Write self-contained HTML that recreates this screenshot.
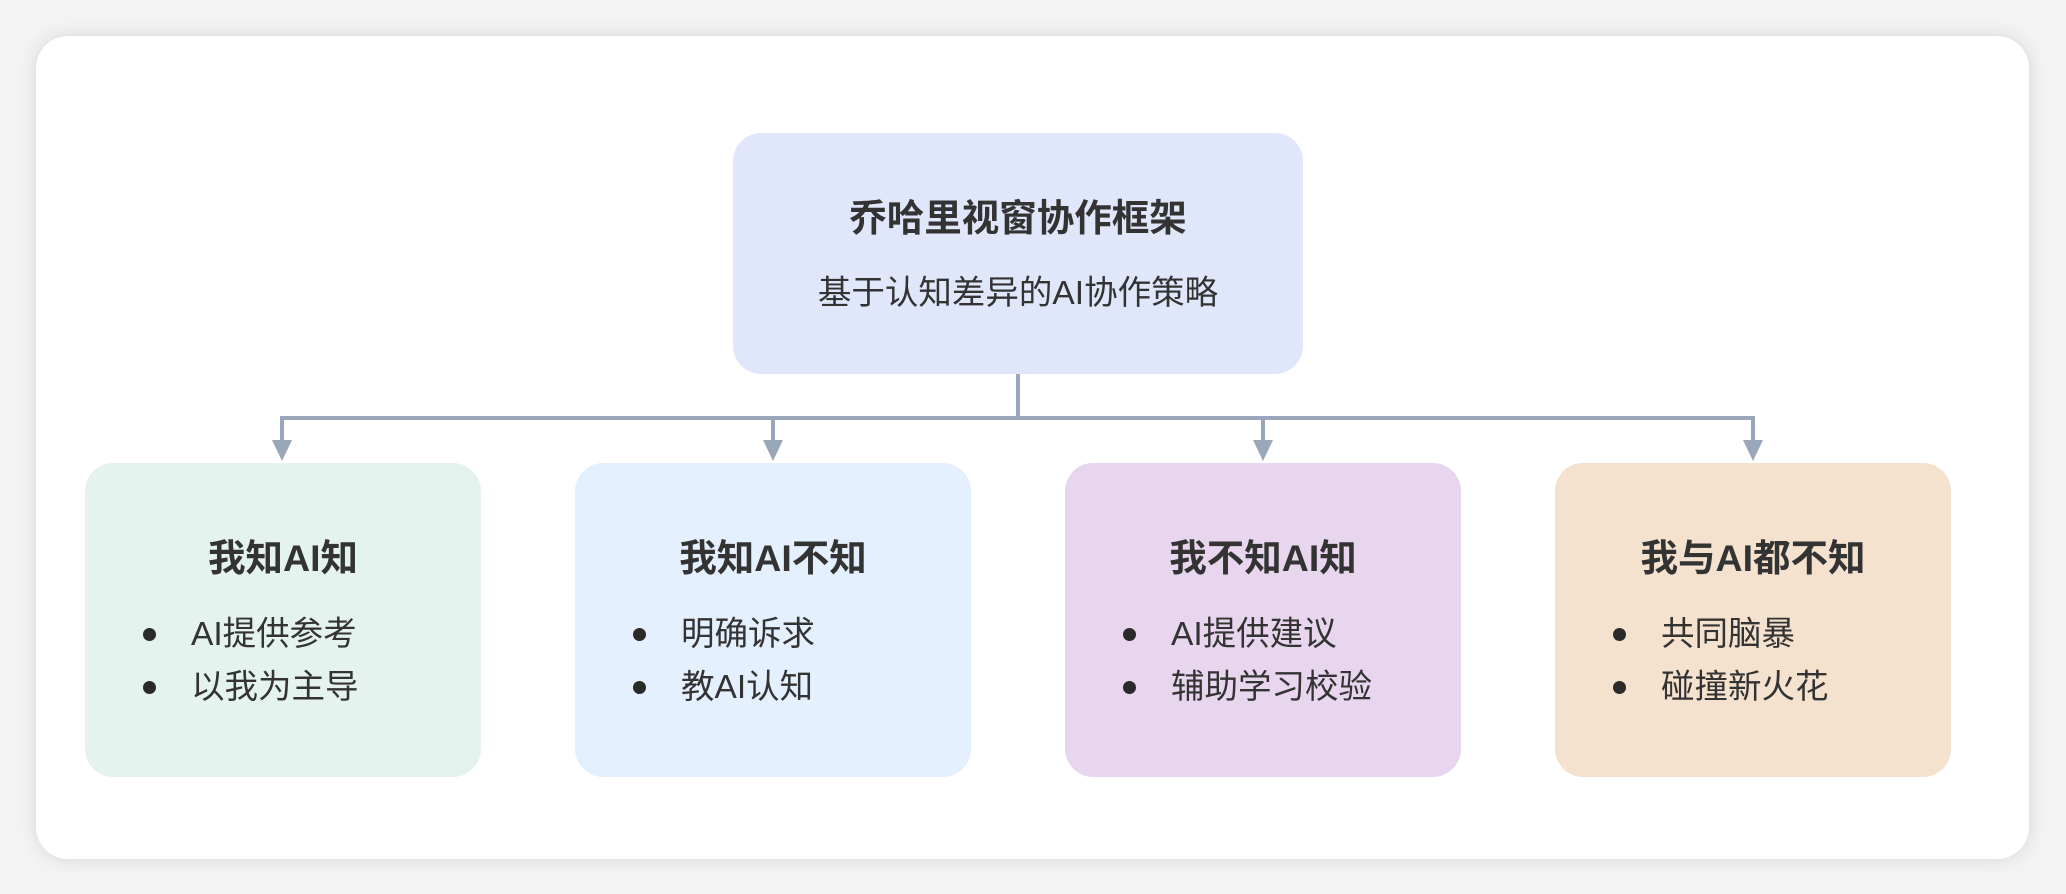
<!DOCTYPE html>
<html><head><meta charset="utf-8"><style>
html,body{margin:0;padding:0;width:2066px;height:894px;background:#f3f3f3;overflow:hidden;font-family:"Liberation Sans","Noto Sans CJK SC",sans-serif;color:#333;}
.card{position:absolute;left:36px;top:36px;width:1993px;height:823px;background:#fff;border-radius:32px;box-shadow:0 0 18px rgba(0,0,0,0.12);}
.node{position:absolute;border-radius:28px;box-sizing:border-box;}
.ch{top:463px;width:396px;height:314px;}
.ch .h{position:absolute;left:0;right:0;top:71px;text-align:center;font-size:37.5px;font-weight:bold;line-height:48px;}
.ch .b{position:absolute;left:106px;font-size:33.5px;line-height:44px;white-space:nowrap;}
.ch .d{position:absolute;left:58px;width:13px;height:13px;border-radius:50%;background:#2a2a2a;}
</style></head><body>
<div class="card"></div>
<div class="node" style="left:733px;top:133px;width:570px;height:241px;background:#e1e7fb;"></div>
<div style="position:absolute;left:733px;width:570px;top:193px;text-align:center;font-size:37.5px;font-weight:bold;line-height:50px;">乔哈里视窗协作框架</div>
<div style="position:absolute;left:733px;width:570px;top:269px;text-align:center;font-size:33.5px;line-height:50px;">基于认知差异的AI协作策略</div>
<svg style="position:absolute;left:0;top:0" width="2066" height="894">
<g stroke="#9aa6ba" stroke-width="4" fill="none">
<line x1="1018" y1="374" x2="1018" y2="418"/>
<line x1="280" y1="418" x2="1755" y2="418"/>
<line x1="282" y1="418" x2="282" y2="444"/>
<line x1="773" y1="418" x2="773" y2="444"/>
<line x1="1263" y1="418" x2="1263" y2="444"/>
<line x1="1753" y1="418" x2="1753" y2="444"/>
</g>
<g fill="#9aa6ba">
<polygon points="272,440 292,440 282,461"/>
<polygon points="763,440 783,440 773,461"/>
<polygon points="1253,440 1273,440 1263,461"/>
<polygon points="1743,440 1763,440 1753,461"/>
</g>
</svg>
<div class="node ch" style="left:85px;background:#e5f3ef;"><div class="h">我知AI知</div><div class="d" style="top:165px"></div><div class="b" style="top:150px">AI提供参考</div><div class="d" style="top:218px"></div><div class="b" style="top:203px">以我为主导</div></div>
<div class="node ch" style="left:575px;background:#e4f0fd;"><div class="h">我知AI不知</div><div class="d" style="top:165px"></div><div class="b" style="top:150px">明确诉求</div><div class="d" style="top:218px"></div><div class="b" style="top:203px">教AI认知</div></div>
<div class="node ch" style="left:1065px;background:#e8d6ee;"><div class="h">我不知AI知</div><div class="d" style="top:165px"></div><div class="b" style="top:150px">AI提供建议</div><div class="d" style="top:218px"></div><div class="b" style="top:203px">辅助学习校验</div></div>
<div class="node ch" style="left:1555px;background:#f4e2cf;"><div class="h">我与AI都不知</div><div class="d" style="top:165px"></div><div class="b" style="top:150px">共同脑暴</div><div class="d" style="top:218px"></div><div class="b" style="top:203px">碰撞新火花</div></div>
</body></html>
